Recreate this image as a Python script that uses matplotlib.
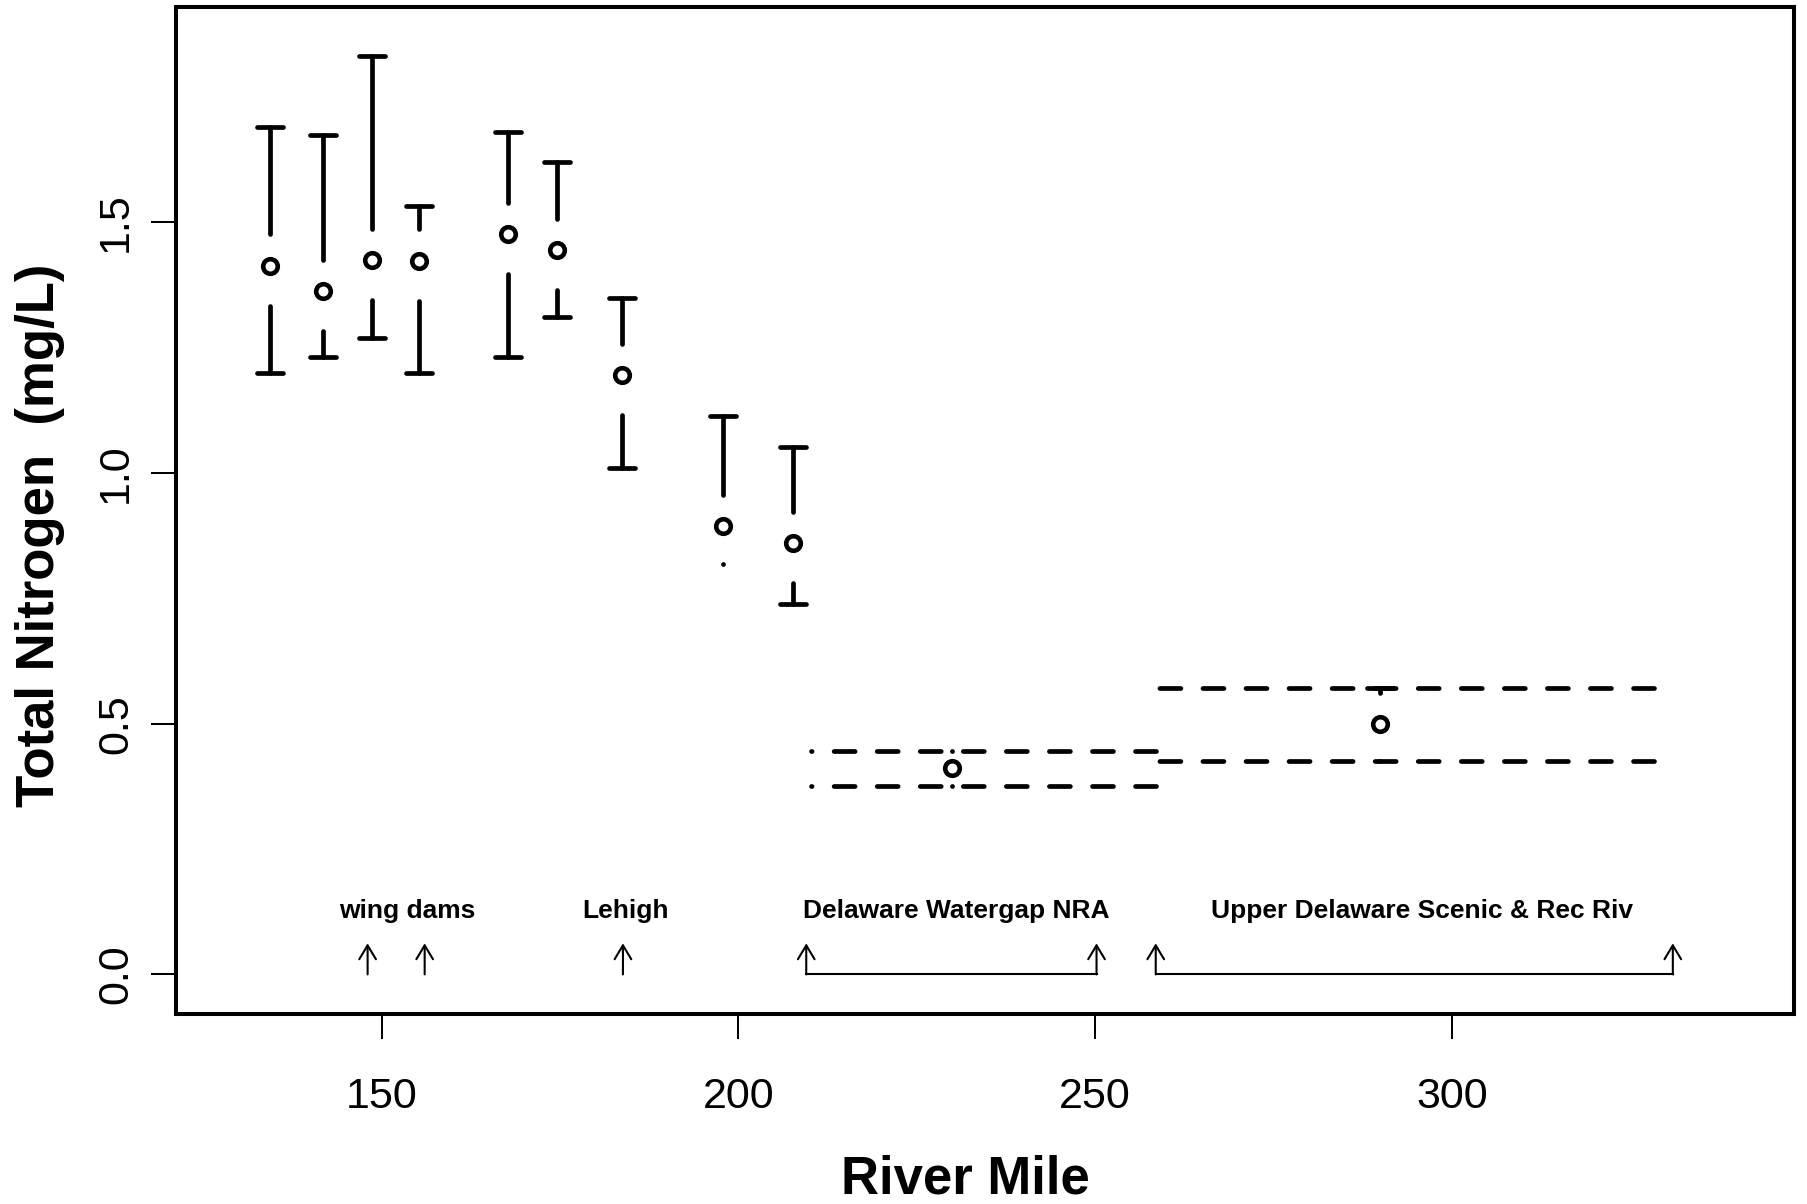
import matplotlib
matplotlib.use("Agg")
import matplotlib.pyplot as plt
from matplotlib.markers import MarkerStyle

plt.rcParams["font.family"] = ["Liberation Sans", "DejaVu Sans"]
plt.rcParams["lines.scale_dashes"] = False

# sites: river mile, mean total N and interval bounds (mg/L)
mile  = [134.3, 141.8, 148.6, 155.2, 167.7, 174.5, 183.6, 197.8, 207.6, 230.0, 290.0]
mean  = [1.414, 1.364, 1.425, 1.424, 1.477, 1.445, 1.196, 0.895, 0.860, 0.411, 0.499]
upper = [1.690, 1.674, 1.831, 1.533, 1.680, 1.620, 1.350, 1.113, 1.053, 0.446, 0.571]
lower = [1.199, 1.231, 1.269, 1.199, 1.231, 1.312, 1.010, 0.818, 0.739, 0.376, 0.426]

# last two sites are shown as a band over their reach
band_site  = [9, 10]
band_start = [210.2, 258.7]
band_end   = [258.6, 328.4]

# annotations along the bottom
labels  = ["wing dams", "Lehigh", "Delaware Watergap NRA", "Upper Delaware Scenic & Rec Riv"]
label_x = [153.6, 184.1, 230.5, 295.9]
single_arrows = [148.0, 156.0, 183.8]
bracket_start = [209.5, 258.5]
bracket_end   = [250.2, 331.0]

LW = 3.4
GAP_UP, GAP_DN = 0.062, 0.08   # gap around the point (plotCI style)
ARROW_TOP = 0.062
TEXT_Y = 0.112

fig = plt.figure(figsize=(18.08, 12.04), dpi=100)
ax = fig.add_axes([0.0976, 0.1578, 0.8947, 0.8361])
ax.set_xlim(121.2, 348)
ax.set_ylim(-0.079, 1.929)

cap = MarkerStyle("_", capstyle="round")
for x, m, u, l in zip(mile, mean, upper, lower):
    top = min(m + GAP_UP, u)
    bot = max(m - GAP_DN, l)
    for end, start in ((u, top), (l, bot)):
        if end != start:
            ax.plot([x, x], [start, end], color="k", lw=LW, solid_capstyle="round")
            ax.plot(x, end, marker=cap, ms=19, mew=LW, color="k")
        else:
            # zero-length bar -> just a dot
            ax.plot(x, end, "o", ms=LW, color="k", mew=0)
ax.plot(mile, mean, "o", ms=10.5, mfc="none", mec="k", mew=3.3, ls="none", zorder=3)

for i, s, e in zip(band_site, band_start, band_end):
    for yv in (upper[i], lower[i]):
        # drawn right to left so the dash pattern ends at the left side
        ax.plot([e, s], [yv, yv], color="k", lw=LW, ls=(0, (15.1, 15.9)),
                dash_capstyle="round")

arrow_kw = dict(arrowstyle="->,head_length=1.0,head_width=0.6", color="k",
                lw=1.5, shrinkA=0, shrinkB=0)
for x in single_arrows + bracket_start + bracket_end:
    ax.annotate("", xy=(x, ARROW_TOP), xytext=(x, 0), arrowprops=arrow_kw)
for s, e in zip(bracket_start, bracket_end):
    ax.plot([s, e], [0, 0], color="k", lw=1.5)
for t, x in zip(labels, label_x):
    ax.text(x, TEXT_Y, t, ha="center", va="baseline", fontsize=19, fontweight="bold")

ax.set_xticks([150, 200, 250, 300])
ax.set_yticks([0, 0.5, 1.0, 1.5])
ax.set_yticklabels(["0.0", "0.5", "1.0", "1.5"], rotation=90, va="center")
ax.tick_params(length=18, width=1.45, labelsize=31, direction="out")
ax.tick_params(axis="x", pad=27)
ax.tick_params(axis="y", pad=11)
for sp in ax.spines.values():
    sp.set_linewidth(2.9)

fig.text(965 / 1808, 1 - 1180 / 1204, "River Mile", ha="center", va="center",
         fontsize=38, fontweight="bold")
fig.text(40 / 1808, 1 - 535 / 1204, "Total Nitrogen  (mg/L)", rotation=90,
         ha="center", va="center", fontsize=38, fontweight="bold")

fig.savefig("out.png", dpi=100)
